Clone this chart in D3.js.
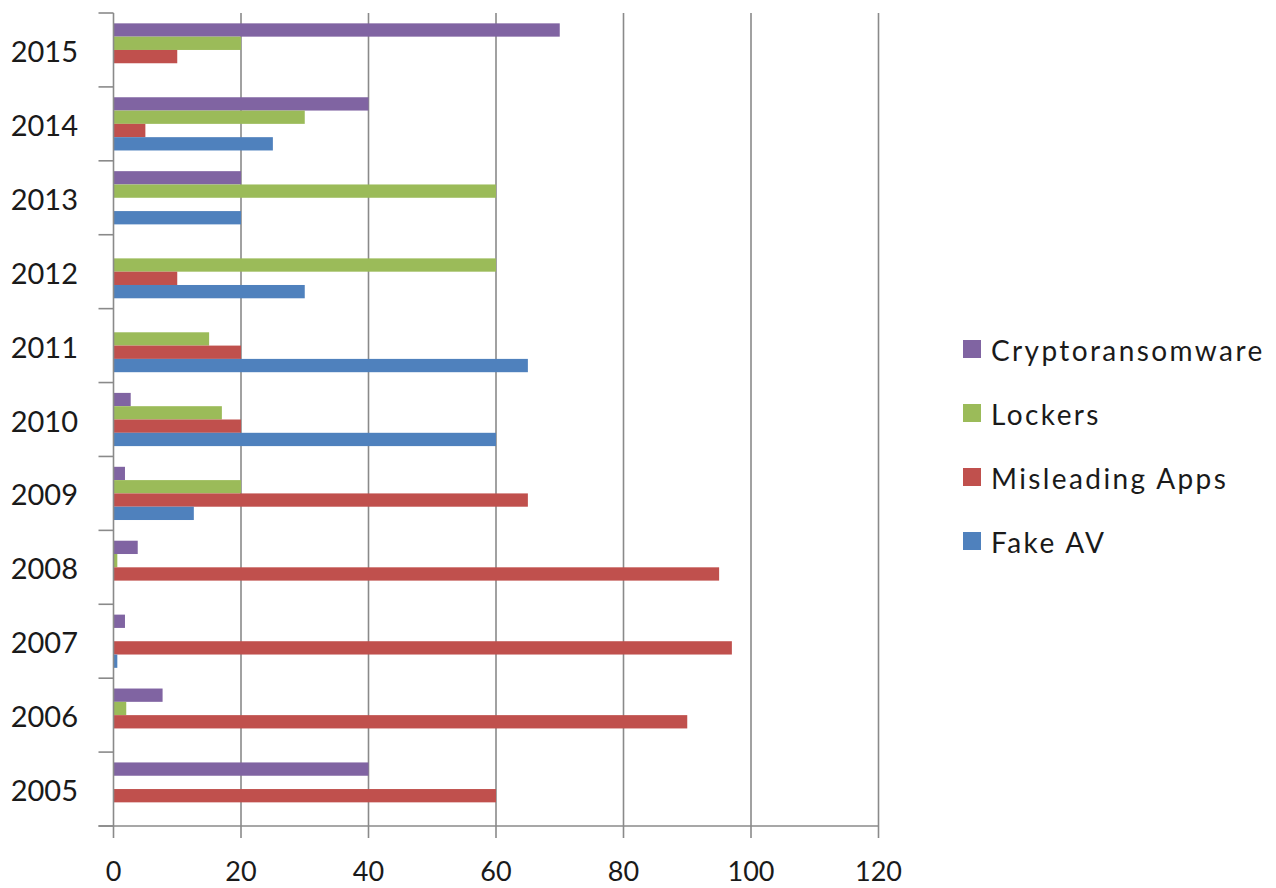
<!DOCTYPE html>
<html>
<head>
<meta charset="utf-8">
<script src="https://cdn.jsdelivr.net/npm/d3@7"></script>
<style>
  html, body { margin: 0; padding: 0; background: #fff; }
  svg text { font-family: Lato, "Open Sans", sans-serif; fill: #1a1a1a; }
</style>
</head>
<body>
<svg id="chart" width="1276" height="888"></svg>
<script>
// Years shown on the category axis, top to bottom
const years = [2015, 2014, 2013, 2012, 2011, 2010, 2009, 2008, 2007, 2006, 2005];

// Series, in the order bars are stacked inside each year group (top to bottom)
const seriesNames = ["Cryptoransomware", "Lockers", "Misleading Apps", "Fake AV"];
const seriesColors = ["#8064A2", "#9BBB59", "#C0504D", "#4F81BD"];

// Values per series, aligned with `years`
const cryptoransomware = [70, 40, 20, 0, 0, 2.7, 1.8, 3.8, 1.8, 7.7, 40];
const lockers          = [20, 30, 60, 60, 15, 17, 20, 0.6, 0, 2, 0];
const misleadingApps   = [10, 5, 0, 10, 20, 20, 65, 95, 97, 90, 60];
const fakeAV           = [0, 25, 20, 30, 65, 60, 12.6, 0, 0.6, 0, 0];

// Value axis ticks
const xTicks = [0, 20, 40, 60, 80, 100, 120];

const seriesValues = [cryptoransomware, lockers, misleadingApps, fakeAV];
const rows = years.map((yr, i) => ({
  year: yr,
  values: seriesNames.map((s, j) => ({ series: s, color: seriesColors[j], value: seriesValues[j][i] }))
}));

const svg = d3.select("#chart");
const plot = { left: 113.5, right: 878.5, top: 13, bottom: 826 };

const x = d3.scaleLinear().domain([0, 120]).range([plot.left, plot.right]);
const pad = 0.28;
const y = d3.scaleBand().domain(years).range([plot.top, plot.bottom])
  .paddingInner(pad).paddingOuter(pad / 2);
const yInner = d3.scaleBand().domain(seriesNames).range([0, y.bandwidth()]);

const gridColor = "#8a8a8a";

// Vertical gridlines
svg.append("g").selectAll("line")
  .data(xTicks.filter(t => t > 0))
  .join("line")
  .attr("x1", d => x(d)).attr("x2", d => x(d))
  .attr("y1", plot.top).attr("y2", plot.bottom)
  .attr("stroke", gridColor).attr("stroke-width", 1.6);

// Bars
const groups = svg.append("g").selectAll("g")
  .data(rows)
  .join("g")
  .attr("transform", d => `translate(0,${y(d.year)})`);

groups.selectAll("rect")
  .data(d => d.values.filter(v => v.value > 0))
  .join("rect")
  .attr("x", x(0))
  .attr("y", d => yInner(d.series))
  .attr("width", d => x(d.value) - x(0))
  .attr("height", yInner.bandwidth())
  .attr("fill", d => d.color);

// Category axis: line plus boundary ticks between years
const step = y.step();
const boundaries = years.map(yr => y(yr) - step * pad / 2).concat([plot.bottom]);
const yAxis = svg.append("g");
yAxis.append("line")
  .attr("x1", x(0)).attr("x2", x(0))
  .attr("y1", plot.top).attr("y2", plot.bottom)
  .attr("stroke", gridColor).attr("stroke-width", 1.6);
yAxis.selectAll("line.tick")
  .data(boundaries)
  .join("line")
  .attr("class", "tick")
  .attr("x1", x(0) - 15).attr("x2", x(0))
  .attr("y1", d => d).attr("y2", d => d)
  .attr("stroke", gridColor).attr("stroke-width", 1.6);
yAxis.selectAll("text")
  .data(years)
  .join("text")
  .attr("x", 78)
  .attr("y", d => y(d) + y.bandwidth() / 2 + 12)
  .attr("text-anchor", "end")
  .attr("font-size", 29)
  .text(d => d);

// Value axis
const xAxis = svg.append("g");
xAxis.append("line")
  .attr("x1", x(0) - 15).attr("x2", plot.right)
  .attr("y1", plot.bottom).attr("y2", plot.bottom)
  .attr("stroke", gridColor).attr("stroke-width", 1.6);
xAxis.selectAll("line.tick")
  .data(xTicks)
  .join("line")
  .attr("class", "tick")
  .attr("x1", d => x(d)).attr("x2", d => x(d))
  .attr("y1", plot.bottom).attr("y2", plot.bottom + 12)
  .attr("stroke", gridColor).attr("stroke-width", 1.6);
xAxis.selectAll("text")
  .data(xTicks)
  .join("text")
  .attr("x", d => x(d))
  .attr("y", 881)
  .attr("text-anchor", "middle")
  .attr("font-size", 27)
  .text(d => d);

// Legend
const legend = svg.append("g").attr("transform", "translate(963,349)");
const li = legend.selectAll("g")
  .data(seriesNames.map((s, i) => ({ name: s, color: seriesColors[i] })))
  .join("g")
  .attr("transform", (d, i) => `translate(0,${i * 64})`);
li.append("rect")
  .attr("x", 0).attr("y", -9)
  .attr("width", 18).attr("height", 18)
  .attr("fill", d => d.color);
li.append("text")
  .attr("x", 28).attr("y", 12)
  .attr("font-size", 28)
  .attr("letter-spacing", 2.4)
  .text(d => d.name);
</script>
</body>
</html>
